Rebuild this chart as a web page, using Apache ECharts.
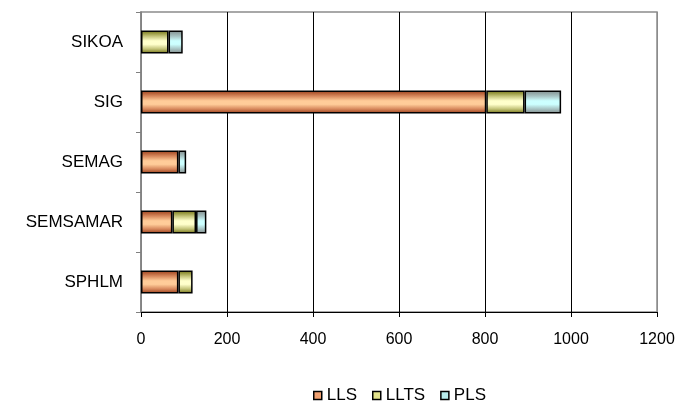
<!DOCTYPE html>
<html>
<head>
<meta charset="utf-8">
<script src="https://cdn.jsdelivr.net/npm/echarts@6/dist/echarts.min.js"></script>
<style>
html,body{margin:0;padding:0;background:#fff;}
#c{width:679px;height:403px;}
</style>
</head>
<body>
<div id="c"></div>
<script>
var categories = ['SPHLM', 'SEMSAMAR', 'SEMAG', 'SIG', 'SIKOA'];
var seriesNames = ['LLS', 'LLTS', 'PLS'];
var lls  = [87, 73, 87, 803, 0];
var llts = [33, 55, 0, 89, 64];
var pls  = [0, 24, 18, 85, 33];
var xMin = 0, xMax = 1200, xInterval = 200;

function grad(edge, mid, center) {
  return new echarts.graphic.LinearGradient(0, 0, 0, 1, [
    {offset: 0, color: edge},
    {offset: 0.25, color: mid},
    {offset: 0.45, color: center},
    {offset: 0.6, color: center},
    {offset: 0.8, color: mid},
    {offset: 1, color: edge}
  ]);
}
var styles = [
  grad('#983C18', '#D88A5E', '#FFCC99'),
  grad('#707010', '#C4C47A', '#FFFFCC'),
  grad('#7F8A8A', '#A8C4C4', '#CCFFFF')
];
var legendColors = ['#F0A070', '#E4E48C', '#B8ECEC'];
var values = [lls, llts, pls];
var font = 'Liberation Sans, Arial, sans-serif';

var chart = echarts.init(document.getElementById('c'));
chart.setOption({
  animation: false,
  textStyle: {fontFamily: font},
  grid: {left: 141, right: 22, top: 12, bottom: 91, show: true,
         borderColor: '#8C8C8C', borderWidth: 1.5, backgroundColor: 'transparent'},
  legend: {
    top: 382,
    left: 308,
    itemWidth: 8,
    itemHeight: 8,
    itemGap: 15,
    icon: 'rect',
    textStyle: {fontSize: 17, color: '#000', fontFamily: font},
    data: seriesNames.map(function (n, i) {
      return {name: n, itemStyle: {color: legendColors[i], borderColor: '#000', borderWidth: 1.5}};
    })
  },
  xAxis: {
    type: 'value',
    min: xMin, max: xMax, interval: xInterval,
    axisLine: {show: true, lineStyle: {color: '#000', width: 1}},
    axisTick: {show: true, length: 5, lineStyle: {color: '#000'}},
    axisLabel: {fontSize: 16, color: '#000', margin: 20,
                formatter: function (v) { return String(v); }},
    splitLine: {show: true, lineStyle: {
      color: ['#8C8C8C', '#000', '#000', '#000', '#000', '#000', '#8C8C8C'], width: 1}}
  },
  yAxis: {
    type: 'category',
    data: categories,
    axisLine: {show: true, lineStyle: {color: '#808080', width: 1.5}},
    axisTick: {show: true, length: 5, lineStyle: {color: '#808080'}},
    axisLabel: {fontSize: 17, color: '#000', margin: 18},
    splitLine: {show: false}
  },
  series: seriesNames.map(function (n, i) {
    return {
      name: n,
      type: 'bar',
      stack: 'total',
      barWidth: 23,
      data: values[i].map(function (v) { return v === 0 ? '-' : v; }),
      itemStyle: {color: styles[i], borderColor: '#000', borderWidth: 1.5}
    };
  })
});
</script>
</body>
</html>
